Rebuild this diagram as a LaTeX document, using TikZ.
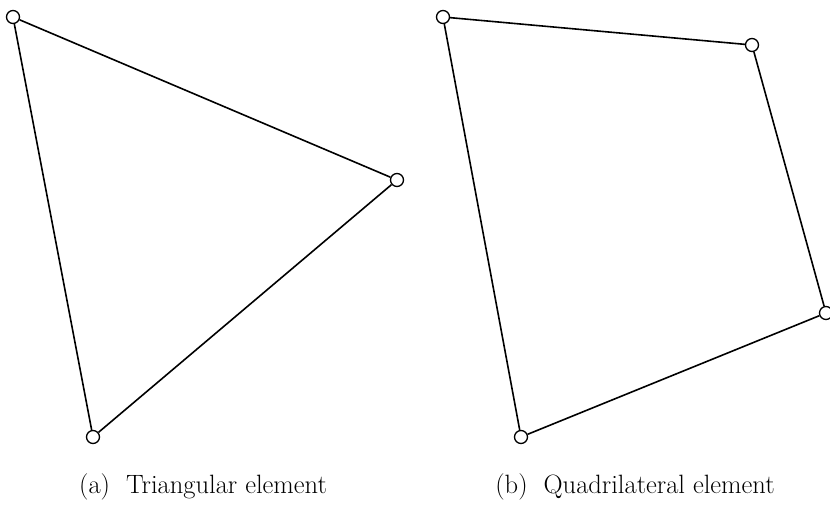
\documentclass[tikz,border=0pt]{standalone}
\usetikzlibrary{positioning}
\begin{document}
\begin{tikzpicture}[x=1pt,y=-1pt,line width=1.6pt,
    vertex/.style={circle,draw,fill=white,inner sep=0pt,minimum size=13pt,line width=1.3pt},
    caption/.style={font=\fontsize{26.5}{31}\selectfont,anchor=base}]
    \useasboundingbox (0,0) rectangle (830,508);
    % triangular element
    \node[vertex] (t1) at (13,17) {};
    \node[vertex] (t2) at (397,180) {};
    \node[vertex] (t3) at (93,437) {};
    \draw (t1) -- (t2) -- (t3) -- (t1);
    % quadrilateral element
    \node[vertex] (q1) at (443,17) {};
    \node[vertex] (q2) at (752,45) {};
    \node[vertex] (q3) at (826,313) {};
    \node[vertex] (q4) at (521,437) {};
    \draw (q1) -- (q2) -- (q3) -- (q4) -- (q1);
    \node[caption] (capa) at (203,493) {(a)\ \ Triangular element};
    \node[caption] (capb) at (635,493) {(b)\ \ Quadrilateral element};
  \end{tikzpicture}
\end{document}
